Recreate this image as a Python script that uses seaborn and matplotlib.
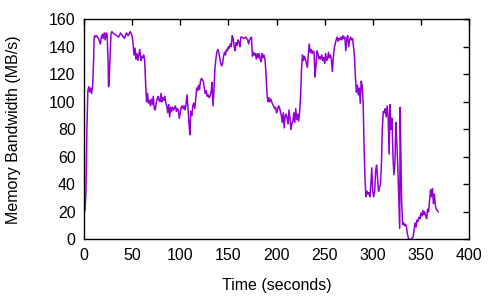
import matplotlib
matplotlib.use("Agg")
import matplotlib.pyplot as plt
import seaborn as sns
import pandas as pd

# Memory bandwidth trace
time_s = [0, 1, 2, 3, 4, 5, 6, 7, 8, 9, 10, 10.5, 11, 12, 13, 14, 15, 16, 17, 18,
          19, 20, 21, 22, 23, 24, 25, 25.5, 26, 27, 28, 29, 30, 32, 34, 36, 38, 40, 42, 44,
          46, 48, 50, 51, 52, 53, 54, 55, 56, 57, 58, 59, 60, 61, 62, 63, 64, 65, 66, 67,
          68, 69, 70, 71, 72, 73, 74, 75, 76, 77, 78, 79, 80, 81, 82, 83, 84, 85, 86, 87,
          88, 89, 90, 91, 92, 93, 95, 96, 97, 98, 99, 100, 101, 102, 103, 104, 105, 106, 107, 108,
          109, 110, 111, 112, 113, 114, 115, 116, 117, 118, 119, 120, 121, 122, 123, 124, 125, 126, 127, 128,
          129, 130, 131, 132, 133, 134, 135, 136, 137, 138, 139, 140, 141, 142, 143, 144, 145, 146, 147, 148,
          149, 150, 151, 152, 153, 154, 155, 156, 157, 158, 159, 160, 161, 162, 163, 164, 166, 168, 170, 171,
          172, 174, 175, 176, 177, 178, 179, 180, 181, 182, 183, 184, 185, 186, 187, 188, 189, 190, 191, 192,
          193, 194, 195, 196, 197, 198, 199, 200, 201, 202, 203, 204, 205, 206, 207, 208, 209, 210, 211, 212,
          213, 214, 215, 216, 217, 218, 219, 220, 221, 222, 223, 224, 225, 226, 227, 228, 229, 230, 231, 232,
          233, 234, 235, 236, 237, 238, 239, 240, 241, 242, 243, 244, 245, 246, 247, 248, 249, 250, 251, 252,
          253, 254, 255, 256, 257, 258, 259, 260, 261, 262, 263, 264, 265, 266, 267, 268, 269, 270, 271, 272,
          273, 274, 275, 276, 277, 278, 279, 280, 281, 282, 283, 284, 285, 286, 287, 288, 289, 290, 291, 292,
          293, 294, 295, 296, 297, 298, 299, 300, 301, 302, 303, 304, 305, 306, 307, 308, 309, 310, 311, 312,
          313, 314, 315, 316, 317, 318, 319, 320, 321, 322, 323, 324, 325, 326, 327, 328, 328.5, 329, 330, 331,
          332, 333, 334, 335, 336, 337, 338, 340, 342, 343, 344, 345, 346, 347, 348, 349, 350, 351, 352, 353,
          354, 355, 356, 357, 358, 359, 360, 361, 362, 363, 364, 365, 366, 368]

bandwidth = [20, 21, 34, 80, 108, 111, 107, 110, 106, 112, 131, 146, 148, 147, 148, 147, 146, 144, 142, 147,
             149, 146, 150, 145, 150, 149, 131, 111, 113, 131, 149, 151, 150, 149, 148, 147, 150, 148, 146, 150,
             148, 151, 148, 142, 134, 139, 131, 135, 130, 134, 138, 130, 133, 132, 134, 130, 114, 100, 106, 99,
             101, 97, 102, 98, 104, 95, 94, 99, 102, 104, 101, 100, 106, 100, 103, 101, 104, 99, 97, 92,
             98, 89, 96, 93, 96, 94, 97, 93, 95, 94, 88, 92, 96, 97, 95, 97, 94, 98, 105, 96,
             85, 76, 93, 90, 97, 99, 95, 101, 110, 108, 112, 109, 115, 117, 116, 115, 110, 106, 108, 104,
             105, 103, 104, 107, 114, 97, 108, 124, 131, 136, 138, 136, 132, 128, 126, 128, 133, 136, 134, 138,
             137, 140, 139, 142, 140, 148, 146, 140, 137, 143, 141, 145, 143, 140, 147, 147, 146, 147, 145, 142,
             145, 147, 133, 136, 134, 135, 131, 135, 132, 135, 131, 129, 135, 132, 134, 131, 122, 107, 100, 103,
             100, 102, 100, 98, 97, 95, 96, 92, 94, 97, 96, 93, 90, 85, 92, 81, 90, 91, 88, 84,
             94, 88, 80, 84, 86, 92, 85, 95, 87, 91, 86, 92, 104, 124, 134, 130, 133, 131, 128, 125,
             134, 142, 136, 138, 135, 137, 136, 118, 126, 137, 135, 131, 133, 131, 134, 130, 132, 128, 135, 130,
             131, 136, 132, 134, 131, 122, 132, 139, 142, 145, 147, 144, 146, 145, 147, 145, 148, 146, 147, 137,
             146, 148, 140, 145, 147, 145, 146, 140, 133, 118, 107, 112, 105, 110, 99, 115, 112, 100, 67, 43,
             31, 35, 33, 34, 31, 40, 52, 35, 31, 35, 50, 54, 45, 35, 38, 40, 54, 82, 93, 92,
             95, 89, 97, 89, 62, 98, 80, 88, 60, 47, 55, 85, 71, 53, 31, 8, 96, 71, 28, 11,
             12, 10, 11, 9, 4, 1, 0, 0, 2, 7, 12, 9, 14, 13, 16, 15, 19, 17, 21, 18,
             20, 17, 15, 22, 20, 28, 36, 31, 37, 26, 33, 25, 22, 20]

df = pd.DataFrame({"time": time_s, "bw": bandwidth})

sns.set_style("white")
plt.rcParams['font.family'] = ['Liberation Sans', 'DejaVu Sans']

fig = plt.figure(figsize=(5, 3), dpi=100)
ax = fig.add_axes([0.168, 0.202, 0.770, 0.734])

sns.lineplot(data=df, x="time", y="bw", color="#9400D3", linewidth=1.1, ax=ax)

ax.set_xlim(0, 400)
ax.set_ylim(0, 160)
ax.set_xticks(range(0, 401, 50))
ax.set_yticks(range(0, 161, 20))
ax.tick_params(direction="in", length=4, width=1, top=True, right=True,
               labelsize=11.5, colors="black", labelcolor="black", pad=6)
for s in ax.spines.values():
    s.set_color("black")
    s.set_linewidth(1)
ax.set_xlabel("Time (seconds)", fontsize=11.5, color="black", labelpad=11)
ax.set_ylabel("Memory Bandwidth (MB/s)", fontsize=11.5, color="black", labelpad=20)

fig.savefig("out.png", dpi=100)
